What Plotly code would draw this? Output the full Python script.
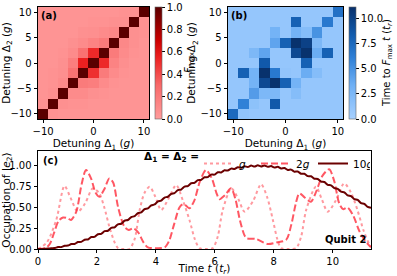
import numpy as np
import plotly.graph_objects as go

FONT = "DejaVu Sans"
W, H = 397, 276

# ---------------- data ----------------
detuning = [-10, -8, -6, -4, -2, 0, 2, 4, 6, 8, 10]

# rows: Delta_2 = -10 ... 10 ; columns: Delta_1 = -10 ... 10
F_max = [
    [1.00, .06, .05, .05, .05, .05, .05, .05, .05, .05, .05],
    [.06, 1.00, .07, .06, .06, .05, .05, .05, .05, .05, .05],
    [.05, .07, 1.00, .10, .10, .07, .06, .05, .05, .05, .05],
    [.05, .06, .10, 1.00, .20, .18, .10, .06, .05, .05, .05],
    [.05, .06, .08, .25, 1.00, .50, .20, .10, .06, .05, .05],
    [.05, .05, .07, .18, .55, 1.00, .52, .15, .08, .05, .05],
    [.05, .05, .06, .10, .25, .52, 1.00, .20, .10, .06, .05],
    [.05, .05, .05, .07, .10, .15, .20, 1.00, .12, .07, .05],
    [.05, .05, .05, .05, .07, .08, .10, .12, 1.00, .07, .06],
    [.05, .05, .05, .05, .05, .06, .06, .07, .07, 1.00, .06],
    [.05, .05, .05, .05, .05, .05, .05, .05, .06, .06, 1.00],
]

T_max = [
    [7.5, 1.3, 1.0, 1.0, 1.0, 1.0, 1.0, 1.0, 1.0, 1.0, 1.0],
    [1.0, 6.0, 1.5, 1.0, 8.5, 1.0, 1.0, 1.0, 1.0, 1.0, 1.0],
    [1.0, 1.0, 4.5, 2.5, 2.5, 1.0, 2.0, 1.0, 1.0, 1.0, 1.0],
    [1.0, 1.0, 3.0, 9.5, 11.0, 8.0, 3.0, 1.0, 1.0, 1.0, 1.0],
    [1.0, 8.0, 3.0, 11.0, 6.5, 1.2, 1.0, 3.5, 2.0, 1.0, 1.0],
    [1.0, 1.0, 1.0, 8.5, 1.0, 1.0, 1.0, 8.0, 1.0, 1.0, 1.0],
    [1.0, 1.0, 2.5, 4.0, 1.0, 1.0, 9.5, 11.0, 3.5, 8.0, 1.0],
    [1.0, 1.0, 1.0, 1.0, 4.0, 8.0, 11.0, 10.0, 2.5, 1.0, 1.0],
    [1.0, 1.0, 1.0, 1.0, 3.0, 1.0, 3.0, 2.0, 5.0, 1.0, 1.0],
    [1.0, 1.0, 1.0, 1.0, 1.0, 1.0, 8.0, 1.0, 1.0, 6.5, 1.0],
    [1.0, 1.0, 1.0, 1.0, 1.0, 1.0, 1.0, 1.0, 1.0, 1.0, 7.0],
]

# occupation of |e2>, Delta = g (dotted)
t_g = [0, 0.3, 0.62, 0.9, 1.1, 1.35, 1.6, 1.86, 2.08, 2.25, 2.42, 2.6, 2.72, 2.9,
       3.1, 3.28, 3.45, 3.62, 3.79, 3.98, 4.18, 4.42, 4.69, 4.92, 5.14, 5.32,
       5.48, 5.7, 5.93, 6.1, 6.27, 6.56, 6.8, 7.01, 7.3, 7.57, 7.78, 7.97, 8.12,
       8.25, 8.5, 8.76, 8.93, 9.1, 9.43, 9.63, 9.83, 10.1, 10.39, 10.62, 10.84,
       11.05, 11.24, 11.3]
occ_g = [0, 0.08, 0.35, 0.76, 0.62, 0.45, 0.55, 0.73, 0.67, 0.5, 0.27, 0.08, 0.01,
         0, 0, 0.12, 0.47, 0.68, 0.75, 0.63, 0.47, 0.6, 0.77, 0.58, 0.35, 0.12,
         0.01, 0, 0.01, 0.15, 0.47, 0.73, 0.6, 0.45, 0.58, 0.78, 0.62, 0.35, 0.12,
         0.01, 0, 0.01, 0.15, 0.47, 0.75, 0.6, 0.45, 0.58, 0.79, 0.68, 0.47, 0.22,
         0.06, 0.03]

# Delta = 2g (dashed)
t_2g = [0, 0.25, 0.4, 0.55, 0.7, 0.85, 1.0, 1.12, 1.3, 1.48, 1.63, 1.8, 1.95, 2.08,
        2.25, 2.42, 2.55, 2.72, 2.93, 3.08, 3.23, 3.4, 3.58, 3.73, 4.0, 4.3, 4.45,
        4.62, 4.8, 4.92, 5.03, 5.14, 5.3, 5.5, 5.7, 5.9, 6.05, 6.16, 6.35, 6.55,
        6.7, 6.85, 7.0, 7.08, 7.4, 7.8, 8.1, 8.42, 8.6, 8.75, 8.87, 9.05, 9.26,
        9.45, 9.65, 9.88, 10.05, 10.22, 10.35, 10.5, 10.7, 10.9, 11.1, 11.3]
occ_2g = [0, 0.01, 0.06, 0.2, 0.34, 0.38, 0.37, 0.35, 0.45, 0.78, 0.95, 0.85, 0.68,
          0.63, 0.72, 0.85, 0.8, 0.5, 0.27, 0.23, 0.25, 0.2, 0.08, 0.02, 0.01, 0.02,
          0.1, 0.3, 0.5, 0.54, 0.52, 0.49, 0.58, 0.82, 0.95, 0.85, 0.68, 0.6, 0.65,
          0.73, 0.6, 0.35, 0.17, 0.13, 0.12, 0.06, 0.08, 0.11, 0.3, 0.55, 0.67, 0.62,
          0.57, 0.7, 0.88, 0.96, 0.82, 0.55, 0.48, 0.5, 0.4, 0.22, 0.1, 0.02]

# Delta = 10g (solid), sampled every 0.113 t_r
dt_10g = 0.113
occ_10g = [0.000, 0.001, 0.002, 0.005, 0.009, 0.011, 0.023, 0.023, 0.039, 0.041,
           0.060, 0.061, 0.084, 0.086, 0.112, 0.115, 0.144, 0.146, 0.178, 0.182,
           0.215, 0.220, 0.255, 0.261, 0.297, 0.304, 0.341, 0.349, 0.385, 0.395,
           0.432, 0.441, 0.479, 0.489, 0.526, 0.536, 0.573, 0.583, 0.620, 0.629,
           0.665, 0.674, 0.709, 0.716, 0.751, 0.758, 0.792, 0.797, 0.830, 0.833,
           0.864, 0.866, 0.896, 0.896, 0.924, 0.922, 0.948, 0.945, 0.968, 0.963,
           0.985, 0.977, 0.996, 0.987, 1.004, 0.992, 1.007, 0.993, 1.005, 0.989,
           0.999, 0.981, 0.989, 0.969, 0.975, 0.952, 0.956, 0.931, 0.933, 0.906,
           0.906, 0.878, 0.876, 0.846, 0.843, 0.811, 0.807, 0.773, 0.767, 0.732,
           0.725, 0.690, 0.682, 0.645, 0.637, 0.600, 0.591, 0.553, 0.544, 0.506,
           0.497]
t_10g = list(np.arange(len(occ_10g)) * dt_10g)

heat_ticks_x = [-10, 0, 10]
heat_ticks_y = [-10, -5, 0, 5, 10]
occ_ticks = [0, 0.25, 0.5, 0.75, 1.0]
time_ticks = [0, 2, 4, 6, 8, 10]

# ---------------- layout helpers ----------------
def px_x(p):
    return p / W

def px_y(p):
    return 1 - p / H

reds = [[0.0, "#ff9c9c"], [0.3, "#f86a6a"], [0.55, "#ec2020"], [0.7, "#cc0000"],
        [1.0, "#5a0000"]]
blues = [[0.0, "#a6d0ff"], [0.3, "#6fb0f5"], [0.55, "#2e7fd6"], [0.75, "#125cae"],
         [1.0, "#08306b"]]

fig = go.Figure()

tickfont = dict(family=FONT, size=10, color="black")

fig.add_trace(go.Heatmap(
    x=detuning, y=detuning, z=F_max, colorscale=reds, zmin=0, zmax=1,
    xaxis="x", yaxis="y",
    colorbar=dict(x=px_x(155), xanchor="left", xpad=0, ypad=0,
                  thickness=7, thicknessmode="pixels",
                  len=112, lenmode="pixels", y=px_y(63), yanchor="middle",
                  ticks="outside", ticklen=3, tickcolor="black",
                  tickvals=[0, 0.2, 0.4, 0.6, 0.8, 1.0], tickformat=".1f",
                  tickfont=tickfont, outlinewidth=0.6, outlinecolor="#666")))

fig.add_trace(go.Heatmap(
    x=detuning, y=detuning, z=T_max, colorscale=blues, zmin=0, zmax=11.1,
    xaxis="x2", yaxis="y2",
    colorbar=dict(x=px_x(349), xanchor="left", xpad=0, ypad=0,
                  thickness=7, thicknessmode="pixels",
                  len=112, lenmode="pixels", y=px_y(63), yanchor="middle",
                  ticks="outside", ticklen=3, tickcolor="black",
                  tickvals=[0, 2.5, 5, 7.5, 10], tickformat=".1f",
                  tickfont=tickfont, outlinewidth=0.6, outlinecolor="#666")))

fig.add_trace(go.Scatter(
    x=t_g, y=occ_g, mode="lines", name="<i>g</i>", xaxis="x3", yaxis="y3",
    line=dict(color="rgba(255,70,80,0.55)", width=2, dash="dot", shape="spline",
              smoothing=0.8)))
fig.add_trace(go.Scatter(
    x=t_2g, y=occ_2g, mode="lines", name="2<i>g</i>", xaxis="x3", yaxis="y3",
    line=dict(color="rgba(255,40,55,0.78)", width=2, dash="7px,3px", shape="spline",
              smoothing=0.8)))
fig.add_trace(go.Scatter(
    x=t_10g, y=occ_10g, mode="lines", name="10<i>g</i>", xaxis="x3", yaxis="y3",
    line=dict(color="#6b0000", width=2, shape="spline", smoothing=0.6)))

axis_common = dict(showline=True, linecolor="black", linewidth=0.8, mirror=True,
                   ticks="outside", ticklen=3.5, tickcolor="black", tickwidth=0.8,
                   showgrid=False, zeroline=False, tickfont=tickfont,
                   automargin=False)
title_font = dict(family=FONT, size=10.5, color="black")

fig.update_layout(
    width=W, height=H, margin=dict(l=0, r=0, t=0, b=0, autoexpand=False),
    paper_bgcolor="white", plot_bgcolor="white",
    font=dict(family=FONT, size=10, color="black"),
    xaxis=dict(domain=[px_x(38), px_x(149)], range=[-11, 11], tickvals=heat_ticks_x,
               anchor="y", title=dict(text="Detuning Δ<sub>1</sub> (<i>g</i>)",
                                      font=title_font, standoff=1), **axis_common),
    yaxis=dict(domain=[px_y(119), px_y(7)], range=[-11, 11], tickvals=heat_ticks_y,
               anchor="x", title=dict(text="Detuning Δ<sub>2</sub> (<i>g</i>)",
                                      font=title_font, standoff=2), **axis_common),
    xaxis2=dict(domain=[px_x(228), px_x(343)], range=[-11, 11], tickvals=heat_ticks_x,
                anchor="y2", title=dict(text="Detuning Δ<sub>1</sub> (<i>g</i>)",
                                        font=title_font, standoff=1), **axis_common),
    yaxis2=dict(domain=[px_y(119), px_y(7)], range=[-11, 11], tickvals=heat_ticks_y,
                anchor="x2", title=dict(text="Detuning Δ<sub>2</sub> (<i>g</i>)",
                                        font=title_font, standoff=2), **axis_common),
    xaxis3=dict(domain=[px_x(38), px_x(371)], range=[0, 11.3], tickvals=time_ticks,
                anchor="y3", title=dict(text="Time <i>t</i> (<i>t<sub>r</sub></i>)",
                                        font=title_font, standoff=0), **axis_common),
    yaxis3=dict(domain=[px_y(249), px_y(151)], range=[0, 1.18], tickvals=occ_ticks,
                tickformat=".2f", anchor="x3",
                title=dict(text="Occupation of |<i>e</i><sub>2</sub>⟩",
                           font=title_font, standoff=2), **axis_common),
    showlegend=True,
    legend=dict(orientation="h", x=px_x(199), y=px_y(149), xanchor="left",
                yanchor="top", bgcolor="rgba(0,0,0,0)",
                font=dict(family=FONT, size=10.5), itemwidth=30,
                entrywidth=12, entrywidthmode="pixels", tracegroupgap=0),
    annotations=[
        dict(text="<b>(a)</b>", x=0.01, y=0.99, xref="x domain", yref="y domain",
             xanchor="left", yanchor="top", showarrow=False,
             font=dict(family=FONT, size=10)),
        dict(text="<b>(b)</b>", x=0.01, y=0.99, xref="x2 domain", yref="y2 domain",
             xanchor="left", yanchor="top", showarrow=False,
             font=dict(family=FONT, size=10)),
        dict(text="<b>(c)</b>", x=0.01, y=0.98, xref="x3 domain", yref="y3 domain",
             xanchor="left", yanchor="top", showarrow=False,
             font=dict(family=FONT, size=10)),
        dict(text="<b>Qubit 2</b>", x=0.99, y=0.02, xref="x3 domain", yref="y3 domain",
             xanchor="right", yanchor="bottom", showarrow=False,
             font=dict(family=FONT, size=10)),
        dict(text="<b>Δ<sub>1</sub> = Δ<sub>2</sub> =</b>", x=px_x(201), y=px_y(157),
             xref="paper", yref="paper", xanchor="right", yanchor="middle",
             showarrow=False, font=dict(family=FONT, size=10.5)),
        dict(text="<i>F</i><sub>max</sub>", x=px_x(189), y=px_y(63),
             xref="paper", yref="paper", xanchor="center", yanchor="middle",
             textangle=-90, showarrow=False, font=dict(family=FONT, size=10)),
        dict(text="Time to <i>F</i><sub>max</sub> <i>t</i> (<i>t<sub>r</sub></i>)",
             x=px_x(387), y=px_y(63), xref="paper", yref="paper",
             xanchor="center", yanchor="middle", textangle=-90, showarrow=False,
             font=dict(family=FONT, size=10)),
    ],
)

fig.write_html("out.html", config={"displayModeBar": False},
               post_script="document.body.style.margin='0';document.body.style.padding='0';")
